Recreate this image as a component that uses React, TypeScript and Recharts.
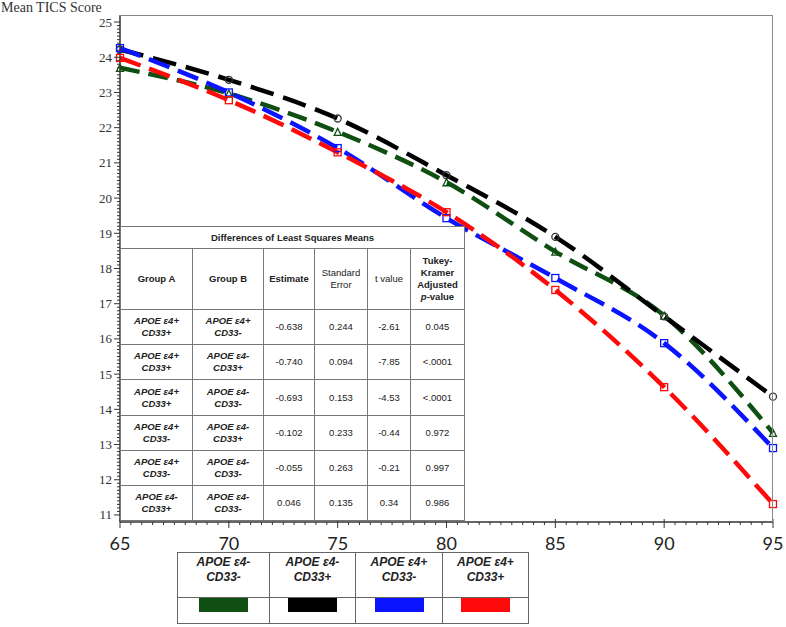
import React from 'react';
import { LineChart, Line, XAxis, YAxis } from 'recharts';

// age (years) at which the mean TICS score was estimated
const ages = [65, 70, 75, 80, 85, 90, 95];

// mean TICS score per group
const e4NegCd33Neg = [23.7, 22.97, 21.88, 20.45, 18.48, 16.66, 13.33];
const e4NegCd33Pos = [24.22, 23.36, 22.26, 20.65, 18.9, 16.64, 14.36];
const e4PosCd33Neg = [24.26, 23.0, 21.42, 19.43, 17.73, 15.88, 12.9];
const e4PosCd33Pos = [23.98, 22.78, 21.3, 19.6, 17.39, 14.63, 11.31];

const xTicks = Array.from({ length: 61 }, (_, i) => 65 + i * 0.5);
const yTicks = Array.from({ length: 141 }, (_, i) => Math.round((11 + i * 0.1) * 10) / 10);

// Differences of least squares means table
const tableHeader = ['Group A', 'Group B', 'Estimate', 'Standard Error', 't value', 'Tukey-Kramer Adjusted p-value'];
const groupA = [['APOE ε4+', 'CD33+'], ['APOE ε4+', 'CD33+'], ['APOE ε4+', 'CD33+'], ['APOE ε4+', 'CD33-'], ['APOE ε4+', 'CD33-'], ['APOE ε4-', 'CD33+']];
const groupB = [['APOE ε4+', 'CD33-'], ['APOE ε4-', 'CD33+'], ['APOE ε4-', 'CD33-'], ['APOE ε4-', 'CD33+'], ['APOE ε4-', 'CD33-'], ['APOE ε4-', 'CD33-']];
const estimates = ['-0.638', '-0.740', '-0.693', '-0.102', '-0.055', '0.046'];
const stdErrors = ['0.244', '0.094', '0.153', '0.233', '0.263', '0.135'];
const tValues = ['-2.61', '-7.85', '-4.53', '-0.44', '-0.21', '0.34'];
const pValues = ['0.045', '<.0001', '<.0001', '0.972', '0.997', '0.986'];

const legendNames = [['APOE ε4-', 'CD33-'], ['APOE ε4-', 'CD33+'], ['APOE ε4+', 'CD33-'], ['APOE ε4+', 'CD33+']];

const GREEN = '#0f4f12';
const BLACK = '#000000';
const BLUE = '#0a14ff';
const RED = '#ff0a0a';

const data = ages.map((age, i) => ({
  age,
  g1: e4NegCd33Neg[i],
  g2: e4NegCd33Pos[i],
  g3: e4PosCd33Neg[i],
  g4: e4PosCd33Pos[i],
}));

const makeDot = (shape: string, color: string) => (props: any) => {
  const { cx, cy, index } = props;
  if (cx == null || cy == null) return <g key={index} />;
  const s = 3.5;
  if (shape === 'circle')
    return <circle key={index} cx={cx} cy={cy} r={s} fill="none" stroke={color} strokeWidth={1.3} />;
  if (shape === 'triangle')
    return (
      <polygon
        key={index}
        points={`${cx},${cy - s} ${cx - s},${cy + s} ${cx + s},${cy + s}`}
        fill="none"
        stroke={color}
        strokeWidth={1.3}
      />
    );
  return <rect key={index} x={cx - s} y={cy - s} width={s * 2} height={s * 2} fill="none" stroke={color} strokeWidth={1.3} />;
};

const YTick = (props: any) => {
  const { x, y, payload } = props;
  const v = payload.value;
  const major = Math.abs(v - Math.round(v)) < 1e-6;
  return (
    <g>
      <line x1={x} x2={x - (major ? 6 : 3)} y1={y} y2={y} stroke="#333" strokeWidth={1} />
      {major && (
        <text x={x - 8} y={y + 4.5} textAnchor="end" fontFamily="'Liberation Serif', serif" fontSize={13} fill="#333">
          {Math.round(v)}
        </text>
      )}
    </g>
  );
};

const XTick = (props: any) => {
  const { x, y, payload } = props;
  const v = payload.value;
  const major = Math.abs(v % 5) < 1e-6;
  return (
    <g>
      <line x1={x} x2={x} y1={major ? y - 3 : y} y2={y + (major ? 6 : 3)} stroke="#333" strokeWidth={1} />
      {major && (
        <text x={x} y={y + 28} textAnchor="middle" fontFamily="Lato, 'Open Sans', sans-serif" fontSize={18} fill="#222">
          {v}
        </text>
      )}
    </g>
  );
};

const cell: React.CSSProperties = {
  border: '1px solid #777',
  textAlign: 'center',
  verticalAlign: 'middle',
  padding: 0,
  lineHeight: '12px',
};

const italicCell: React.CSSProperties = { ...cell, fontWeight: 'bold', fontStyle: 'italic' };

function StatsTable() {
  return (
    <table
      style={{
        position: 'absolute',
        left: 120,
        top: 226,
        width: 344,
        height: 295,
        borderCollapse: 'collapse',
        background: '#fff',
        fontFamily: "'Liberation Sans', Arial, sans-serif",
        fontSize: 9.5,
        color: '#222',
        tableLayout: 'fixed',
      }}
    >
      <colgroup>
        <col style={{ width: 72 }} />
        <col style={{ width: 71 }} />
        <col style={{ width: 51 }} />
        <col style={{ width: 53 }} />
        <col style={{ width: 43 }} />
        <col style={{ width: 54 }} />
      </colgroup>
      <tbody>
        <tr style={{ height: 22 }}>
          <td colSpan={6} style={{ ...cell, fontWeight: 'bold' }}>
            Differences of Least Squares Means
          </td>
        </tr>
        <tr style={{ height: 61 }}>
          {tableHeader.map((h, i) => (
            <td key={i} style={{ ...cell, fontWeight: i === 0 || i === 1 || i === 2 || i === 5 ? 'bold' : 'normal' }}>
              {i === 5 ? (
                <>
                  Tukey-
                  <br />
                  Kramer
                  <br />
                  Adjusted
                  <br />
                  <i>p</i>-value
                </>
              ) : i === 3 ? (
                <>
                  Standard
                  <br />
                  Error
                </>
              ) : (
                h
              )}
            </td>
          ))}
        </tr>
        {groupA.map((a, r) => (
          <tr key={r} style={{ height: 35 }}>
            <td style={italicCell}>
              {a[0]}
              <br />
              {a[1]}
            </td>
            <td style={italicCell}>
              {groupB[r][0]}
              <br />
              {groupB[r][1]}
            </td>
            <td style={cell}>{estimates[r]}</td>
            <td style={cell}>{stdErrors[r]}</td>
            <td style={cell}>{tValues[r]}</td>
            <td style={cell}>{pValues[r]}</td>
          </tr>
        ))}
      </tbody>
    </table>
  );
}

function LegendTable() {
  const colors = [GREEN, BLACK, BLUE, RED];
  return (
    <table
      style={{
        position: 'absolute',
        left: 177,
        top: 552,
        width: 351,
        height: 71,
        borderCollapse: 'collapse',
        background: '#fff',
        fontFamily: "'Liberation Sans', Arial, sans-serif",
        fontSize: 12,
        fontWeight: 'bold',
        fontStyle: 'italic',
        color: '#222',
        tableLayout: 'fixed',
      }}
    >
      <colgroup>
        <col style={{ width: 92 }} />
        <col style={{ width: 86 }} />
        <col style={{ width: 87 }} />
        <col style={{ width: 86 }} />
      </colgroup>
      <tbody>
        <tr style={{ height: 45 }}>
          {legendNames.map((n, i) => (
            <td key={i} style={{ border: '1px solid #666', textAlign: 'center', verticalAlign: 'top', paddingTop: 2, lineHeight: '15px' }}>
              {n[0]}
              <br />
              {n[1]}
            </td>
          ))}
        </tr>
        <tr style={{ height: 26 }}>
          {colors.map((c, i) => (
            <td key={i} style={{ border: '1px solid #666', textAlign: 'center', verticalAlign: 'top', padding: 0 }}>
              <div style={{ width: 49, height: 14, background: c, margin: '0 auto' }} />
            </td>
          ))}
        </tr>
      </tbody>
    </table>
  );
}

export default function App() {
  return (
    <div style={{ position: 'absolute', left: 0, top: 0, width: 786, height: 627, background: '#fff' }}>
      <div
        style={{
          position: 'absolute',
          left: 1,
          top: 1,
          fontFamily: "'Liberation Serif', serif",
          fontSize: 14,
          lineHeight: '14px',
          color: '#333',
        }}
      >
        Mean TICS Score
      </div>
      <LineChart width={786} height={627} data={data} margin={{ top: 15, right: 13, left: 0, bottom: 65 }}>
        <XAxis
          dataKey="age"
          type="number"
          domain={[65, 95]}
          ticks={xTicks}
          interval={0}
          tickSize={0}
          tickMargin={0}
          tick={<XTick />}
          axisLine={{ stroke: '#333', strokeWidth: 1.5 }}
          height={40}
        />
        <YAxis
          type="number"
          domain={[10.8, 25.2]}
          ticks={yTicks}
          interval={0}
          tickSize={0}
          tickMargin={0}
          tick={<YTick />}
          axisLine={{ stroke: '#333', strokeWidth: 1.5 }}
          width={120}
          allowDataOverflow
        />
        <Line
          dataKey="g1"
          type="monotone"
          stroke={GREEN}
          strokeWidth={4.5}
          strokeDasharray="20 9"
          dot={makeDot('triangle', GREEN)}
          isAnimationActive={false}
        />
        <Line
          dataKey="g2"
          type="monotone"
          stroke={BLACK}
          strokeWidth={4.5}
          strokeDasharray="24 10"
          dot={makeDot('circle', '#333')}
          isAnimationActive={false}
        />
        <Line
          dataKey="g3"
          type="monotone"
          stroke={BLUE}
          strokeWidth={4.5}
          strokeDasharray="22 9"
          dot={makeDot('square', BLUE)}
          isAnimationActive={false}
        />
        <Line
          dataKey="g4"
          type="monotone"
          stroke={RED}
          strokeWidth={4.5}
          strokeDasharray="22 9"
          dot={makeDot('square', RED)}
          isAnimationActive={false}
        />
      </LineChart>
      {/* frame around the plot area */}
      <div
        style={{
          position: 'absolute',
          left: 119,
          top: 15,
          width: 654,
          height: 507,
          borderTop: '1.5px solid #888',
          borderRight: '1.5px solid #888',
          boxSizing: 'border-box',
          pointerEvents: 'none',
        }}
      />
      <StatsTable />
      <LegendTable />
    </div>
  );
}
